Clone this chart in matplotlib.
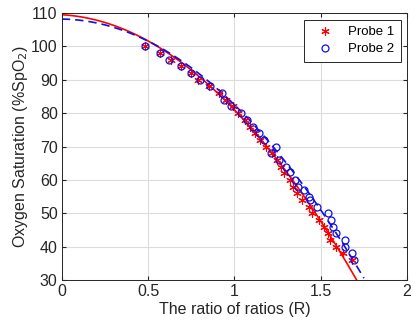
import matplotlib
matplotlib.use("Agg")
import matplotlib.pyplot as plt
import numpy as np

plt.rcParams["font.family"] = ["Liberation Sans", "DejaVu Sans"]

# Probe 1 measurements (ratio R, SpO2 %)
probe1_r = [0.48, 0.57, 0.63, 0.69, 0.75, 0.79, 0.85, 0.91, 0.95, 0.99, 1.02,
            1.06, 1.09, 1.12, 1.15, 1.18, 1.22, 1.245, 1.27, 1.285, 1.32, 1.34,
            1.36, 1.39, 1.43, 1.45, 1.49, 1.52, 1.54, 1.555, 1.59, 1.63, 1.68]
probe1_spo2 = [100, 98, 96, 94, 92, 90, 88, 86, 84, 82, 80, 78, 76, 74, 72, 70,
               68, 66, 64, 62, 60, 58, 56, 54, 52, 50, 48, 46, 44, 42, 40, 38, 36]

# Probe 2 measurements
probe2_r = [0.48, 0.57, 0.62, 0.69, 0.75, 0.80, 0.86, 0.93, 0.94, 0.98, 1.04,
            1.07, 1.11, 1.14, 1.17, 1.24, 1.21, 1.26, 1.30, 1.32, 1.35, 1.37,
            1.40, 1.43, 1.44, 1.48, 1.54, 1.56, 1.57, 1.59, 1.64, 1.64, 1.68, 1.69]
probe2_spo2 = [100, 98, 96, 94, 92, 90, 88, 86, 84, 82, 80, 78, 76, 74, 72, 70,
               68, 66, 64, 62.5, 60, 58, 57, 55, 54, 52, 50, 48, 46, 44, 42, 40,
               38, 36]

# quadratic calibration fits: SpO2 = c0 + c1*R + c2*R^2
fit1_coef = [109.5, -3.0, -25.5]
fit2_coef = [108.2, -0.8, -24.9]
fit_r_max = 1.75

fig = plt.figure(figsize=(4.15, 3.26), dpi=100)
ax = fig.add_axes([0.149, 0.141, 0.832, 0.819])

r = np.linspace(0, fit_r_max, 200)
ax.plot(r, np.polyval(fit1_coef[::-1], r), color="red", lw=1.2)
ax.plot(r, np.polyval(fit2_coef[::-1], r), color="#1010e0", lw=1.2,
        ls=(0, (5, 3)))

ax.plot(probe1_r, probe1_spo2, ls="none", marker=(6, 2, 0), color="red",
        markersize=6, markeredgewidth=0.8, label="Probe 1")
ax.plot(probe2_r, probe2_spo2, ls="none", marker="o", mfc="none",
        mec="#1010e0", markersize=5, markeredgewidth=0.9, label="Probe 2")

ax.set_xlim(0, 2)
ax.set_ylim(30, 110)
ax.set_xticks([0, 0.5, 1, 1.5, 2])
ax.set_xticklabels(["0", "0.5", "1", "1.5", "2"])
ax.set_yticks(np.arange(30, 111, 10))

ax.grid(True, color="#dcdcdc", lw=0.8)
ax.set_axisbelow(True)
ax.tick_params(direction="in", length=3, labelsize=11.5, colors="#262626",
               top=True, right=True, pad=3)
for spine in ax.spines.values():
    spine.set_color("#262626")
    spine.set_linewidth(0.7)

ax.set_xlabel("The ratio of ratios (R)", fontsize=11.5, color="#262626",
              labelpad=2)
ax.set_ylabel("Oxygen Saturation (%SpO$_2$)", fontsize=11.5, color="#262626",
              labelpad=1)

leg = ax.legend(loc="upper right", fontsize=9.5, fancybox=False,
                edgecolor="#262626", framealpha=1, handletextpad=0.6,
                borderpad=0.5, labelspacing=0.35, handlelength=2.2)
leg.get_frame().set_linewidth(0.7)

fig.savefig("out.png", dpi=100)
